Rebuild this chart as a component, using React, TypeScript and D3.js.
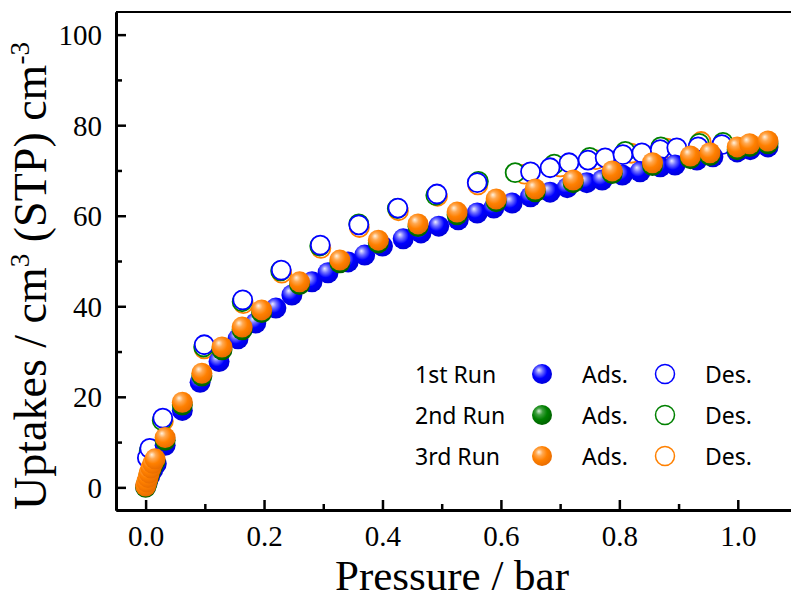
import React, { useEffect, useRef } from 'react';
import * as d3 from 'd3';

// 1st run (blue)
const run1AdsP = [0.0, 0.003, 0.007, 0.012, 0.018, 0.033, 0.062, 0.092, 0.124, 0.156, 0.186, 0.22, 0.247, 0.281, 0.308, 0.342, 0.37, 0.40, 0.435, 0.465, 0.495, 0.528, 0.56, 0.588, 0.619, 0.65, 0.683, 0.712, 0.745, 0.771, 0.805, 0.835, 0.869, 0.894, 0.931, 0.958, 0.999, 1.021, 1.051];
const run1AdsU = [0.2, 1.2, 2.5, 3.8, 5.2, 9.3, 17, 23.2, 27.8, 32.8, 36.3, 39.6, 42.5, 45.4, 47.4, 49.8, 51.3, 53.3, 54.9, 56.2, 57.7, 59.1, 60.6, 61.7, 62.8, 64.2, 65.2, 66.2, 67.3, 67.9, 69.0, 69.7, 70.8, 71.2, 72.3, 73.0, 74.1, 74.6, 75.2];
const run1DesP = [0.003, 0.007, 0.029, 0.099, 0.164, 0.229, 0.295, 0.36, 0.426, 0.492, 0.56, 0.65, 0.683, 0.715, 0.747, 0.776, 0.806, 0.838, 0.869, 0.897, 0.933, 0.973];
const run1DesU = [6.5, 8.6, 15.3, 31.5, 41.4, 48, 53.5, 58, 61.7, 64.8, 67.3, 69.7, 70.6, 71.7, 72.3, 72.8, 73.5, 73.9, 74.6, 75.0, 75.2, 75.7];

// 2nd run (green)
const run2AdsP = [0.0, 0.002, 0.004, 0.006, 0.009, 0.012, 0.016, 0.033, 0.062, 0.095, 0.129, 0.163, 0.196, 0.26, 0.328, 0.393, 0.46, 0.526, 0.592, 0.658, 0.722, 0.788, 0.856, 0.92, 0.953, 0.999, 1.02, 1.051];
const run2AdsU = [0, 0.8, 1.8, 2.8, 3.8, 4.8, 5.8, 10.4, 18.2, 24.6, 30.4, 34.8, 38.6, 44.8, 49.6, 54, 57.6, 60.2, 63.1, 65.3, 67.3, 69.3, 71.1, 72.6, 73.3, 74.6, 75.3, 75.9];
const run2DesP = [0.006, 0.028, 0.098, 0.163, 0.228, 0.294, 0.36, 0.425, 0.49, 0.562, 0.624, 0.69, 0.75, 0.81, 0.87, 0.935, 0.975];
const run2DesU = [8, 14.8, 31, 41, 47.8, 53.3, 58.2, 61.6, 64.5, 67.6, 69.5, 71.4, 72.9, 74.2, 75.2, 76, 76.2];

// 3rd run (orange)
const run3AdsP = [0.0, 0.002, 0.004, 0.006, 0.009, 0.012, 0.016, 0.033, 0.062, 0.095, 0.129, 0.163, 0.196, 0.26, 0.328, 0.393, 0.46, 0.526, 0.592, 0.658, 0.722, 0.788, 0.856, 0.92, 0.953, 0.999, 1.02, 1.051];
const run3AdsU = [0.3, 1.2, 2.2, 3.2, 4.3, 5.3, 6.3, 11, 18.8, 25.2, 31, 35.4, 39.2, 45.4, 50.2, 54.6, 58.2, 60.8, 63.7, 65.9, 67.9, 69.9, 71.7, 73.2, 73.9, 75.2, 75.9, 76.5];
const run3DesP = [0.006, 0.03, 0.099, 0.165, 0.23, 0.296, 0.361, 0.427, 0.493, 0.561, 0.64, 0.7, 0.76, 0.82, 0.88, 0.938, 0.975];
const run3DesU = [7.6, 14.6, 30.6, 40.6, 47.3, 52.8, 57.4, 61.1, 64.3, 66.8, 69.2, 70.8, 72.4, 73.8, 74.9, 76.4, 76.0];

const runLabels = ['1st Run', '2nd Run', '3rd Run'];
const runColors = ['#0000ff', '#008000', '#ff8000'];
const yMajor = [0, 20, 40, 60, 80, 100];
const yMinor = [10, 30, 50, 70, 90];
const xMajor = [0, 0.2, 0.4, 0.6, 0.8, 1.0];
const xMinor = [0.1, 0.3, 0.5, 0.7, 0.9];

const W = 791, H = 598;
const x = d3.scaleLinear().domain([-0.05, 1.1]).range([116, 797]);
const y = d3.scaleLinear().domain([-5, 105]).range([510, 12]);

const zip = (p: number[], u: number[]) => p.map((v, i) => [v, u[i]] as [number, number]);

const gradStops: Record<string, string[]> = {
  blue: ['#ececff', '#7070ff', '#0000ff', '#0000d8'],
  green: ['#d4ecd4', '#40a040', '#008000', '#006000'],
  orange: ['#fff2e0', '#ffa850', '#ff8000', '#e86c00'],
};
const gradIds = ['blue', 'green', 'orange'];

const serif = 'Liberation Serif, Times New Roman, serif';
const comic = 'Comic Sans MS, Noto Sans, sans-serif';

const App = () => {
  const axRef = useRef<SVGGElement>(null);

  useEffect(() => {
    const g = d3.select(axRef.current);
    g.selectAll('*').remove();

    const left = g.append('g').attr('transform', `translate(${x(-0.05)},0)`)
      .call(d3.axisLeft(y).tickValues(yMajor).tickSizeInner(-10).tickSizeOuter(0).tickPadding(14).tickFormat(d3.format('d')));
    g.append('g').attr('transform', `translate(${x(-0.05)},0)`)
      .call(d3.axisLeft(y).tickValues(yMinor).tickSizeInner(-6).tickSizeOuter(0).tickFormat(() => ''));

    const bottom = g.append('g').attr('transform', `translate(0,${y(-5)})`)
      .call(d3.axisBottom(x).tickValues(xMajor).tickSizeInner(-10).tickSizeOuter(0).tickPadding(15).tickFormat(d3.format('.1f')));
    g.append('g').attr('transform', `translate(0,${y(-5)})`)
      .call(d3.axisBottom(x).tickValues(xMinor).tickSizeInner(-6).tickSizeOuter(0).tickFormat(() => ''));

    g.selectAll('g').attr('font-family', serif).attr('font-size', 29);
    g.selectAll('.domain').attr('stroke', '#000').attr('stroke-width', 3);
    g.selectAll('.tick line').attr('stroke', '#000').attr('stroke-width', 2.5);
    g.selectAll('.tick text').attr('fill', '#000');
    left.selectAll('.tick text').attr('dy', '0.34em');
    bottom.selectAll('.tick text').attr('dy', '0.71em');

    g.append('line')
      .attr('x1', x(-0.05)).attr('x2', x(1.1))
      .attr('y1', y(105)).attr('y2', y(105))
      .attr('stroke', '#000').attr('stroke-width', 2);
  }, []);

  const ads = [zip(run1AdsP, run1AdsU), zip(run2AdsP, run2AdsU), zip(run3AdsP, run3AdsU)];
  const des = [zip(run1DesP, run1DesU), zip(run2DesP, run2DesU), zip(run3DesP, run3DesU)];

  const legendY = [383, 424, 465];

  return (
    <svg width={W} height={H} style={{ position: 'absolute', left: 0, top: 0, background: '#fff' }}>
      <defs>
        {gradIds.map(id => (
          <radialGradient key={id} id={`g-${id}`} cx="0.42" cy="0.4" r="0.62" fx="0.34" fy="0.3">
            <stop offset="0%" stopColor={gradStops[id][0]} />
            <stop offset="28%" stopColor={gradStops[id][1]} />
            <stop offset="60%" stopColor={gradStops[id][2]} />
            <stop offset="100%" stopColor={gradStops[id][3]} />
          </radialGradient>
        ))}
      </defs>

      {/* desorption, drawn under the filled points; blue on top */}
      {[2, 1, 0].map(r => (
        <g key={`des${r}`}>
          {des[r].map(([p, u], i) => (
            <circle key={i} cx={x(p)} cy={y(u)} r={9.5} fill="#fff" stroke={runColors[r]} strokeWidth={1.8} />
          ))}
        </g>
      ))}

      {/* adsorption spheres */}
      {[0, 1, 2].map(r => (
        <g key={`ads${r}`}>
          {ads[r].map(([p, u], i) => (
            <circle key={i} cx={x(p)} cy={y(u)} r={10.5} fill={`url(#g-${gradIds[r]})`} />
          ))}
        </g>
      ))}

      <g ref={axRef} />

      <text x={452} y={590} textAnchor="middle" fontFamily={serif} fontSize={43}>Pressure / bar</text>
      <text transform={`translate(46,${276}) rotate(-90)`} textAnchor="middle" fontFamily={serif} fontSize={46}>
        Uptakes / cm<tspan dy={-17} fontSize={27}>3</tspan>
        <tspan dy={17}> (STP) cm</tspan>
        <tspan dy={-17} fontSize={27}>-3</tspan>
      </text>

      {runLabels.map((lab, r) => (
        <g key={lab} fontFamily={comic} fontSize={23}>
          <text x={415} y={legendY[r]}>{lab}</text>
          <circle cx={542} cy={legendY[r] - 9} r={10} fill={`url(#g-${gradIds[r]})`} />
          <text x={582} y={legendY[r]}>Ads.</text>
          <circle cx={665} cy={legendY[r] - 9} r={9.5} fill="#fff" stroke={runColors[r]} strokeWidth={1.5} />
          <text x={705} y={legendY[r]}>Des.</text>
        </g>
      ))}
    </svg>
  );
};

export default App;
